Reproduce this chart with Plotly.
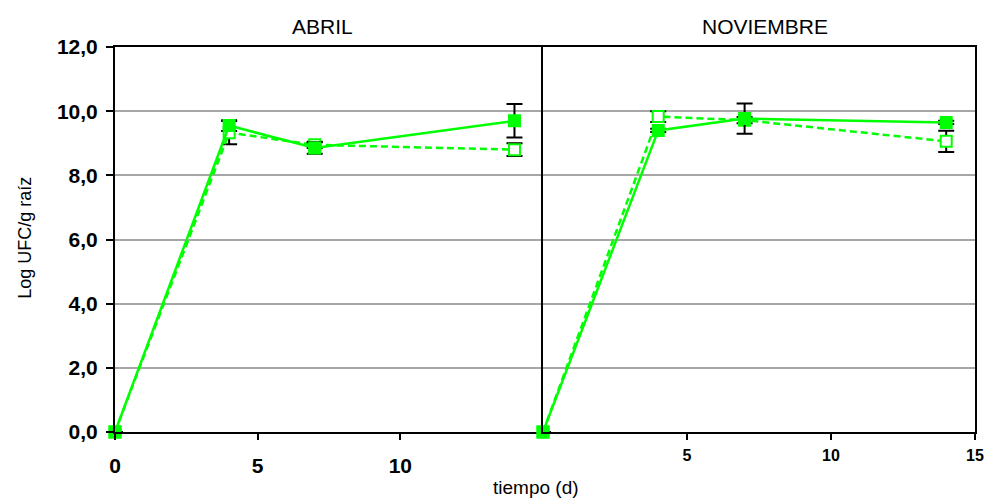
import plotly.graph_objects as go

# ---- data ----
t = [0, 4, 7, 14]
abril_solid = [0.0, 9.55, 8.85, 9.70]
abril_solid_err = [0.0, 0.17, 0.18, 0.52]
abril_dash = [0.0, 9.33, 8.95, 8.80]
abril_dash_err = [0.0, 0.36, 0.10, 0.20]

nov_solid = [0.0, 9.40, 9.77, 9.65]
nov_solid_err = [0.0, 0.05, 0.47, 0.05]
nov_dash = [0.0, 9.83, 9.72, 9.06]
nov_dash_err = [0.0, 0.17, 0.10, 0.33]

panel_titles = ["ABRIL", "NOVIEMBRE"]
y_ticks = [0, 2, 4, 6, 8, 10, 12]
y_ticklabels = ["0,0", "2,0", "4,0", "6,0", "8,0", "10,0", "12,0"]
x_ticks_left = [0, 5, 10]
x_ticks_right = [5, 10, 15]

GREEN = "#00FF00"
FONT = "Liberation Sans"

fig = go.Figure()

def add_series(xa, ya, y, err, dashed):
    fig.add_trace(go.Scatter(
        x=t, y=y, xaxis=xa, yaxis=ya, mode="lines+markers",
        line=dict(color=GREEN, width=2.5, dash="7px,4px" if dashed else "solid"),
        marker=dict(symbol="square", size=11,
                    color="white" if dashed else GREEN,
                    line=dict(color=GREEN, width=2)),
        error_y=dict(type="data", array=err, visible=True, color="black",
                     thickness=2, width=8),
        showlegend=False, cliponaxis=False,
    ))

add_series("x", "y", abril_dash, abril_dash_err, True)
add_series("x", "y", abril_solid, abril_solid_err, False)
add_series("x2", "y2", nov_dash, nov_dash_err, True)
add_series("x2", "y2", nov_solid, nov_solid_err, False)

W, H = 996, 499
L, R, T, B = 115, 13, 47, 67
PW, PH = W - L - R, H - T - B
split = (547 - L) / PW

line_common = dict(showline=True, linecolor="black", linewidth=2, zeroline=False)

fig.update_layout(
    width=W, height=H,
    margin=dict(l=L, r=R, t=T, b=B),
    paper_bgcolor="white", plot_bgcolor="white",
    font=dict(family=FONT, color="black"),
    xaxis=dict(domain=[0, split], range=[0, 15], tickvals=x_ticks_left,
               ticktext=[str(v) for v in x_ticks_left],
               ticks="outside", ticklen=6, tickwidth=2, tickcolor="black",
               ticklabelstandoff=8,
               tickfont=dict(size=21, family=FONT, weight="bold"),
               showgrid=False, anchor="y", mirror=True, **line_common),
    xaxis2=dict(domain=[split, 1], range=[0, 15], tickvals=x_ticks_right,
                ticktext=[str(v) for v in x_ticks_right],
                ticks="outside", ticklen=6, tickwidth=2, tickcolor="black",
                ticklabelstandoff=2,
                tickfont=dict(size=16, family=FONT, weight="bold"),
                showgrid=False, anchor="y2", mirror=True, **line_common),
    yaxis=dict(range=[0, 12], tickvals=y_ticks, ticktext=y_ticklabels,
               ticks="outside", ticklen=7, tickwidth=2, tickcolor="black",
               ticklabelstandoff=4,
               tickfont=dict(size=21, family=FONT, weight="bold"),
               showgrid=True, gridcolor="#a6a6a6", gridwidth=2,
               anchor="x", mirror=False, **line_common),
    yaxis2=dict(range=[0, 12], tickvals=y_ticks, showticklabels=False,
                ticks="", showgrid=True, gridcolor="#a6a6a6", gridwidth=2,
                anchor="x2", mirror=True, **line_common),
)

for title, cx in zip(panel_titles, [324, 771]):
    fig.add_annotation(text=title, xref="paper", yref="paper",
                       x=(cx - L) / PW, y=1 + (47 - 27) / PH,
                       showarrow=False, font=dict(size=21, family=FONT),
                       xanchor="center", yanchor="middle")
fig.add_annotation(text="Log UFC/g raíz", xref="paper", yref="paper",
                   x=-(L - 24) / PW, y=(432 - 238) / PH,
                   textangle=-90, showarrow=False,
                   font=dict(size=18, family=FONT),
                   xanchor="center", yanchor="middle")
fig.add_annotation(text="tiempo (d)", xref="paper", yref="paper",
                   x=(540 - L) / PW, y=-(487 - 432) / PH,
                   showarrow=False, font=dict(size=19, family=FONT),
                   xanchor="center", yanchor="middle")

fig.write_html("out.html")
